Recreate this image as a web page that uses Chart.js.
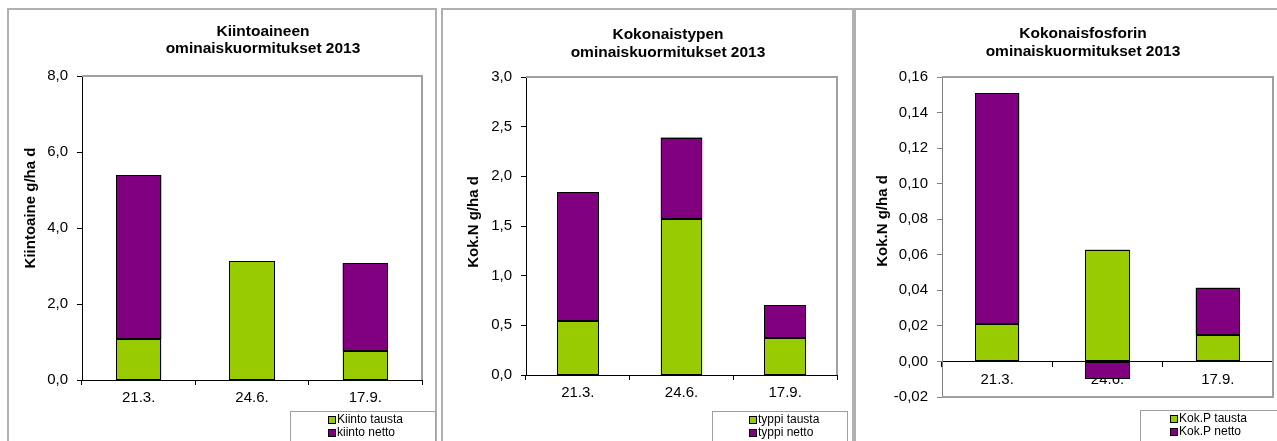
<!DOCTYPE html>
<html>
<head>
<meta charset="utf-8">
<script src="https://cdn.jsdelivr.net/npm/chart.js@4.4.1/dist/chart.umd.min.js"></script>
<style>
  html, body { margin: 0; padding: 0; background: #fff; }
  body { width: 1277px; height: 441px; position: relative; overflow: hidden; }
  .frame { position: absolute; border: 2px solid #b0b0b0; box-sizing: border-box; }
  canvas { position: absolute; top: 0; }
</style>
</head>
<body>
<div class="frame" style="left:7px;top:8px;width:430px;height:480px;"></div>
<div class="frame" style="left:441px;top:8px;width:413px;height:480px;"></div>
<div class="frame" style="left:854px;top:8px;width:460px;height:480px;"></div>
<canvas id="c1" style="left:0px" width="440" height="441"></canvas>
<canvas id="c2" style="left:440px" width="413" height="441"></canvas>
<canvas id="c3" style="left:853px" width="424" height="441"></canvas>
<script>
// ---- data ----
const categories = ['21.3.', '24.6.', '17.9.'];

const kiintoTausta = [1.08, 3.13, 0.76];
const kiintoNetto  = [4.31, 0, 2.32];
const kiintoLabels = ['Kiinto tausta', 'kiinto netto'];
const kiintoTitle  = ['Kiintoaineen', 'ominaiskuormitukset 2013'];
const kiintoYTitle = 'Kiintoaine g/ha d';
const kiintoYAxis  = [0, 8, 2];          // min, max, step
const kiintoDecimals = 1;

const typpiTausta = [0.54, 1.57, 0.375];
const typpiNetto  = [1.30, 0.82, 0.33];
const typpiLabels = ['typpi tausta', 'typpi netto'];
const typpiTitle  = ['Kokonaistypen', 'ominaiskuormitukset 2013'];
const typpiYTitle = 'Kok.N g/ha d';
const typpiYAxis  = [0, 3, 0.5];
const typpiDecimals = 1;

const fosforiTausta = [0.0212, 0.0629, 0.015];
const fosforiNetto  = [0.1298, -0.0096, 0.0265];
const fosforiLabels = ['Kok.P tausta', 'Kok.P netto'];
const fosforiTitle  = ['Kokonaisfosforin', 'ominaiskuormitukset 2013'];
const fosforiYTitle = 'Kok.N g/ha d';
const fosforiYAxis  = [-0.02, 0.16, 0.02];
const fosforiDecimals = 2;

const GREEN = '#99cc00';
const PURPLE = '#800080';
const FONT = "'Liberation Sans', Arial, sans-serif";

const decorPlugin = {
  id: 'decor',
  beforeDatasetsDraw(chart) {
    const o = chart.options.plugins.decor;
    const ctx = chart.ctx;
    const a = chart.chartArea;
    ctx.save();
    ctx.strokeStyle = '#a0a0a0';
    ctx.lineWidth = 2;
    ctx.beginPath();
    ctx.moveTo(a.left, a.top);
    ctx.lineTo(a.right, a.top);
    ctx.lineTo(a.right, a.bottom);
    if (o.bottomGray) ctx.lineTo(a.left, a.bottom);
    ctx.stroke();
    ctx.restore();
  },
  afterDatasetsDraw(chart) {
    // crisp 1px black outlines around every bar segment
    const ctx = chart.ctx;
    ctx.save();
    ctx.strokeStyle = '#000';
    ctx.lineWidth = 1;
    chart.data.datasets.forEach((d, i) => {
      const meta = chart.getDatasetMeta(i);
      meta.data.forEach(el => {
        const p = el.getProps(['x', 'y', 'base', 'width'], true);
        const top = Math.min(p.y, p.base), bot = Math.max(p.y, p.base);
        if (bot - top < 0.5) return;
        const l = Math.round(p.x - p.width / 2) + 0.5;
        const r = Math.round(p.x + p.width / 2) - 0.5;
        const t = Math.round(top) + 0.5;
        const b = Math.round(bot) - 0.5;
        ctx.strokeRect(l, t, r - l, b - t);
      });
    });
    ctx.restore();
  },
  afterDraw(chart) {
    const o = chart.options.plugins.decor;
    const ctx = chart.ctx;
    ctx.save();
    // title
    ctx.fillStyle = '#000';
    ctx.font = 'bold 15.5px ' + FONT;
    ctx.textAlign = 'center';
    ctx.textBaseline = 'alphabetic';
    ctx.fillText(o.title[0], o.titleX, o.titleY[0]);
    ctx.fillText(o.title[1], o.titleX, o.titleY[1]);
    // y title
    ctx.save();
    ctx.font = 'bold 15px ' + FONT;
    ctx.translate(o.yTitleX, o.yTitleY);
    ctx.rotate(-Math.PI / 2);
    ctx.textBaseline = 'middle';
    ctx.fillText(o.yTitle, 0, 0);
    ctx.restore();
    // legend
    const lg = o.legend;
    ctx.strokeStyle = '#a0a0a0';
    ctx.lineWidth = 1;
    ctx.strokeRect(lg.x + 0.5, lg.y + 0.5, lg.w, 60);
    ctx.font = '12px ' + FONT;
    ctx.textAlign = 'left';
    ctx.textBaseline = 'middle';
    const ds = chart.data.datasets;
    for (let i = 0; i < ds.length; i++) {
      const ry = lg.rowY[i];
      ctx.fillStyle = ds[i].backgroundColor;
      ctx.fillRect(lg.mx, ry - 4, 8, 8);
      ctx.strokeStyle = '#000';
      ctx.strokeRect(lg.mx + 0.5, ry - 4 + 0.5, 7, 7);
      ctx.fillStyle = '#000';
      ctx.fillText(ds[i].label, lg.mx + 9, ry);
    }
    ctx.restore();
  }
};

function makeChart(id, cfg) {
  const fmt = v => Number(v).toFixed(cfg.decimals).replace('.', ',').replace(/^-0,00$/, '0,00');
  const xScale = {
    type: 'category',
    offset: true,
    grid: { display: true, offset: true, drawOnChartArea: false, drawTicks: true, tickLength: 5, color: '#000', lineWidth: 1 },
    border: { display: true, color: '#000', width: 1 },
    ticks: { color: '#000', font: { family: FONT, size: 15 }, padding: 4, maxRotation: 0, autoSkip: false },
    afterFit: s => { s.height = cfg.xHeight; }
  };
  if (cfg.xAtZero) xScale.position = { y: 0 };
  return new Chart(document.getElementById(id), {
    type: 'bar',
    data: {
      labels: categories,
      datasets: [
        { label: cfg.labels[0], data: cfg.tausta, backgroundColor: GREEN, borderWidth: 0 },
        { label: cfg.labels[1], data: cfg.netto, backgroundColor: PURPLE, borderWidth: 0 }
      ]
    },
    options: {
      responsive: false,
      animation: false,
      events: [],
      datasets: { bar: { barPercentage: 0.4, categoryPercentage: 1.0, inflateAmount: 0 } },
      layout: { padding: cfg.padding },
      plugins: {
        legend: { display: false },
        tooltip: { enabled: false },
        title: { display: false },
        decor: cfg.decor
      },
      scales: {
        x: Object.assign({ stacked: true }, xScale),
        y: {
          stacked: true,
          min: cfg.yAxis[0], max: cfg.yAxis[1],
          grid: { display: true, drawOnChartArea: false, drawTicks: true, tickLength: 5, color: cfg.yColor, lineWidth: 1 },
          border: { display: true, color: cfg.yColor, width: 1 },
          ticks: { stepSize: cfg.yAxis[2], color: '#000', font: { family: FONT, size: 15 }, padding: 9, callback: v => fmt(v) },
          afterFit: s => { s.width = cfg.yWidth; }
        }
      }
    },
    plugins: [decorPlugin]
  });
}

makeChart('c1', {
  tausta: kiintoTausta, netto: kiintoNetto, labels: kiintoLabels, yAxis: kiintoYAxis, decimals: kiintoDecimals,
  yWidth: 82, xHeight: 40, yColor: '#000',
  padding: { left: 0, right: 18, top: 76, bottom: 21 },
  decor: { title: kiintoTitle, titleX: 263, titleY: [36, 53], yTitle: kiintoYTitle, yTitleX: 31, yTitleY: 208,
           legend: { x: 290, y: 411, w: 145, mx: 328, rowY: [420, 433] } }
});

makeChart('c2', {
  tausta: typpiTausta, netto: typpiNetto, labels: typpiLabels, yAxis: typpiYAxis, decimals: typpiDecimals,
  yWidth: 86, xHeight: 40, yColor: '#000',
  padding: { left: 0, right: 16, top: 77, bottom: 26 },
  decor: { title: typpiTitle, titleX: 668 - 440, titleY: [39, 57], yTitle: typpiYTitle, yTitleX: 474 - 440, yTitleY: 222,
           legend: { x: 712 - 440, y: 411, w: 135, mx: 749 - 440, rowY: [420, 433] } }
});

makeChart('c3', {
  tausta: fosforiTausta, netto: fosforiNetto, labels: fosforiLabels, yAxis: fosforiYAxis, decimals: fosforiDecimals,
  yWidth: 89, xHeight: 40, yColor: '#808080', xAtZero: true,
  padding: { left: 0, right: 4, top: 77, bottom: 44 },
  decor: { title: fosforiTitle, titleX: 1083 - 853, titleY: [38, 56], yTitle: fosforiYTitle, yTitleX: 883 - 853, yTitleY: 221,
           bottomGray: true,
           legend: { x: 1140 - 853, y: 410, w: 200, mx: 1170 - 853, rowY: [419, 432] } }
});
</script>
</body>
</html>
